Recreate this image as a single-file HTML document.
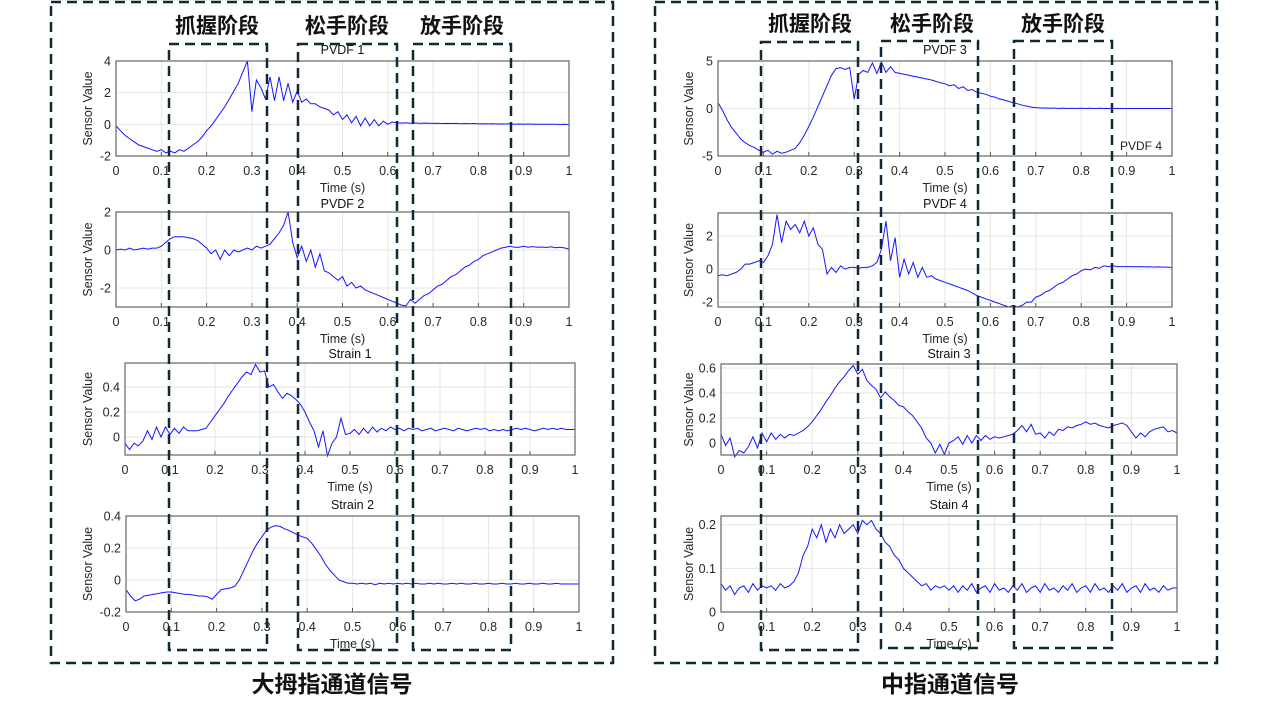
<!DOCTYPE html>
<html><head><meta charset="utf-8">
<style>
html,body{margin:0;padding:0;background:#fff;}
svg{display:block;font-family:"Liberation Sans",Arial,sans-serif;}
.cjk{font-family:"Liberation Sans","Noto Sans CJK SC",sans-serif;font-weight:bold;fill:#111;}
</style></head>
<body>
<svg id="fig" width="1280" height="720" viewBox="0 0 1280 720" xmlns="http://www.w3.org/2000/svg">
<g id="charts"></g>
<g id="overlay" fill="none" stroke="#0f2a36" stroke-width="2.5" stroke-dasharray="10 6">
  <rect x="51" y="2" width="562" height="661"/>
  <rect x="655" y="2" width="562" height="661"/>
  <rect x="169" y="44" width="98" height="606"/>
  <rect x="298" y="44" width="99" height="606"/>
  <rect x="413" y="44" width="98" height="606"/>
  <rect x="761" y="42" width="97" height="608"/>
  <rect x="881" y="41" width="97" height="607"/>
  <rect x="1014" y="41" width="98" height="607"/>
</g>
<text class="cjk" x="217" y="33" font-size="21" text-anchor="middle">抓握阶段</text>
<text class="cjk" x="347" y="33" font-size="21" text-anchor="middle">松手阶段</text>
<text class="cjk" x="462" y="33" font-size="21" text-anchor="middle">放手阶段</text>
<text class="cjk" x="810" y="31" font-size="21" text-anchor="middle">抓握阶段</text>
<text class="cjk" x="932" y="31" font-size="21" text-anchor="middle">松手阶段</text>
<text class="cjk" x="1063" y="31" font-size="21" text-anchor="middle">放手阶段</text>
<text class="cjk" x="332" y="692" font-size="23" text-anchor="middle">大拇指通道信号</text>
<text class="cjk" x="950" y="692" font-size="23" text-anchor="middle">中指通道信号</text>
<text x="1162" y="150" font-size="12" fill="#222" text-anchor="end">PVDF 4</text>
</svg>
<script>
const xTicks=[0,0.1,0.2,0.3,0.4,0.5,0.6,0.7,0.8,0.9,1];
const xTickLabels=["0","0.1","0.2","0.3","0.4","0.5","0.6","0.7","0.8","0.9","1"];
const pvdf1Ticks=[-2,0,2,4];
const pvdf2Ticks=[-2,0,2];
const strain1Ticks=[0,0.2,0.4];
const strain2Ticks=[-0.2,0,0.2,0.4];
const pvdf3Ticks=[-5,0,5];
const pvdf4Ticks=[-2,0,2];
const strain3Ticks=[0,0.2,0.4,0.6];
const stain4Ticks=[0,0.1,0.2];
const pvdf1=[-0.1,-0.4,-0.7,-0.9,-1.1,-1.3,-1.4,-1.5,-1.6,-1.7,-1.6,-1.8,-1.7,-1.8,-1.6,-1.7,-1.5,-1.3,-1.1,-0.8,-0.4,-0.1,0.3,0.7,1.1,1.6,2.1,2.6,3.3,4.0,0.8,2.8,2.3,1.6,3.0,1.5,3.0,1.5,2.6,1.4,2.1,1.4,1.6,1.3,1.3,1.1,1.0,0.9,0.6,0.8,0.3,0.6,0.1,0.5,-0.1,0.4,-0.1,0.3,-0.1,0.2,0.0,0.15,0.1,0.08,0.1,0.07,0.09,0.06,0.08,0.07,0.06,0.07,0.05,0.06,0.05,0.06,0.04,0.05,0.04,0.05,0.03,0.04,0.03,0.04,0.02,0.03,0.02,0.03,0.01,0.02,0.01,0.02,0.0,0.01,0.0,0.01,0.0,0.0,-0.01,0.0,-0.02];
const pvdf2=[0,0.05,0.0,0.1,0.0,0.05,0.1,0.05,0.1,0.1,0.2,0.4,0.6,0.7,0.7,0.7,0.65,0.6,0.5,0.3,0.1,-0.2,0.0,-0.5,0.0,-0.3,0.0,-0.1,0.0,0.1,0.0,0.2,0.1,0.2,0.3,0.6,0.9,1.3,2.0,0.4,-0.4,0.2,-0.6,0.0,-0.9,-0.2,-1.1,-1.2,-1.4,-1.6,-1.4,-1.9,-1.7,-2.0,-1.9,-2.1,-2.2,-2.3,-2.4,-2.5,-2.6,-2.7,-2.8,-2.9,-2.95,-2.6,-2.8,-2.6,-2.4,-2.3,-2.1,-1.9,-1.8,-1.6,-1.4,-1.3,-1.1,-0.9,-0.8,-0.6,-0.5,-0.3,-0.2,-0.1,0.0,0.1,0.15,0.2,0.15,0.15,0.2,0.15,0.18,0.14,0.16,0.13,0.17,0.12,0.15,0.11,0.05];
const strain1=[-0.05,-0.1,-0.05,-0.07,-0.03,0.05,-0.02,0.08,0.0,0.08,0.02,0.07,0.03,0.08,0.05,0.05,0.05,0.06,0.07,0.12,0.17,0.22,0.27,0.33,0.38,0.43,0.48,0.52,0.50,0.58,0.52,0.53,0.40,0.42,0.36,0.31,0.35,0.33,0.30,0.26,0.20,0.12,0.05,-0.08,0.05,-0.15,-0.05,0.0,0.15,0.02,0.03,0.06,0.02,0.07,0.03,0.08,0.04,0.07,0.05,0.08,0.06,0.07,0.05,0.07,0.06,0.07,0.05,0.06,0.07,0.05,0.06,0.07,0.06,0.05,0.07,0.06,0.05,0.06,0.07,0.06,0.07,0.05,0.06,0.05,0.06,0.05,0.06,0.07,0.06,0.07,0.06,0.05,0.06,0.07,0.06,0.07,0.06,0.07,0.06,0.06,0.06];
const strain2=[-0.06,-0.10,-0.13,-0.12,-0.10,-0.095,-0.09,-0.085,-0.08,-0.075,-0.075,-0.08,-0.085,-0.09,-0.09,-0.095,-0.1,-0.1,-0.105,-0.12,-0.09,-0.06,-0.055,-0.05,-0.04,0.0,0.06,0.12,0.18,0.23,0.27,0.31,0.33,0.34,0.335,0.32,0.31,0.295,0.28,0.27,0.26,0.23,0.19,0.15,0.10,0.06,0.03,0.0,-0.01,-0.02,-0.02,-0.025,-0.02,-0.025,-0.02,-0.03,-0.02,-0.025,-0.02,-0.025,-0.02,-0.025,-0.02,-0.025,-0.02,-0.025,-0.025,-0.02,-0.025,-0.02,-0.025,-0.025,-0.02,-0.025,-0.02,-0.025,-0.025,-0.02,-0.025,-0.025,-0.02,-0.025,-0.025,-0.02,-0.025,-0.025,-0.02,-0.025,-0.025,-0.02,-0.025,-0.025,-0.02,-0.025,-0.025,-0.02,-0.025,-0.025,-0.025,-0.025,-0.025];
const pvdf3=[0.6,-0.2,-1.2,-2.0,-2.6,-3.2,-3.6,-3.9,-4.1,-4.4,-4.6,-4.4,-4.8,-4.5,-4.7,-4.6,-4.4,-4.2,-3.6,-2.8,-1.9,-0.9,0.2,1.3,2.4,3.5,4.2,4.3,4.1,4.3,1.0,3.6,4.0,3.8,4.8,3.7,4.9,3.8,4.4,3.8,3.7,3.6,3.5,3.4,3.3,3.2,3.1,3.0,2.85,2.7,2.6,2.4,2.5,2.1,2.3,1.9,2.0,1.7,1.6,1.5,1.3,1.2,1.0,0.9,0.75,0.6,0.5,0.35,0.25,0.15,0.1,0.05,0.05,0.02,0.05,0.0,0.04,0.0,0.03,0.0,0.03,0.0,0.02,0.0,0.02,0.0,0.01,0.0,0.01,0.0,0.0,0.0,0.0,0.0,0.0,0.0,0.0,0.0,0.0,0.0,0.0];
const pvdf4=[-0.4,-0.35,-0.4,-0.3,-0.2,0.0,0.3,0.3,0.4,0.5,0.4,0.8,1.5,3.3,1.6,2.9,2.4,2.7,2.2,2.9,2.0,2.5,1.5,1.2,-0.3,0.1,-0.2,0.2,0.0,0.1,0.1,0.05,0.1,0.1,0.2,0.4,1.2,2.9,0.5,1.9,-0.5,0.6,-0.3,0.4,-0.5,0.1,-0.5,-0.4,-0.6,-0.7,-0.8,-0.9,-1.0,-1.1,-1.2,-1.3,-1.45,-1.6,-1.7,-1.8,-1.9,-2.0,-2.1,-2.2,-2.3,-2.2,-2.3,-2.2,-2.0,-2.0,-1.7,-1.6,-1.4,-1.3,-1.1,-0.9,-0.8,-0.6,-0.4,-0.3,-0.1,0.0,-0.05,0.1,0.05,0.2,0.15,0.2,0.15,0.15,0.15,0.15,0.14,0.15,0.13,0.14,0.12,0.13,0.12,0.12,0.1];
const strain3=[0.07,-0.02,0.04,-0.11,-0.06,-0.08,-0.03,0.05,-0.04,0.08,0.01,0.08,0.03,0.07,0.04,0.07,0.06,0.08,0.1,0.13,0.17,0.22,0.27,0.33,0.38,0.44,0.49,0.53,0.58,0.62,0.55,0.59,0.50,0.46,0.43,0.36,0.41,0.37,0.34,0.30,0.29,0.25,0.22,0.17,0.12,0.04,0.0,-0.08,-0.01,-0.09,0.0,0.02,0.05,-0.01,0.06,0.0,0.06,0.02,0.06,0.03,0.05,0.04,0.05,0.06,0.07,0.1,0.14,0.09,0.15,0.07,0.08,0.04,0.09,0.06,0.11,0.10,0.13,0.12,0.14,0.15,0.17,0.15,0.16,0.14,0.13,0.12,0.14,0.15,0.16,0.14,0.09,0.04,0.08,0.05,0.09,0.11,0.12,0.13,0.09,0.10,0.08];
const stain4=[0.065,0.05,0.06,0.04,0.055,0.06,0.045,0.065,0.05,0.06,0.055,0.06,0.05,0.065,0.055,0.06,0.07,0.09,0.13,0.15,0.19,0.17,0.2,0.16,0.19,0.17,0.2,0.18,0.19,0.2,0.18,0.21,0.2,0.21,0.19,0.18,0.16,0.15,0.13,0.12,0.10,0.09,0.08,0.07,0.06,0.065,0.05,0.06,0.055,0.06,0.05,0.06,0.045,0.06,0.05,0.065,0.045,0.055,0.06,0.045,0.065,0.05,0.055,0.045,0.06,0.05,0.065,0.045,0.055,0.06,0.045,0.065,0.05,0.055,0.045,0.06,0.05,0.065,0.045,0.055,0.06,0.045,0.065,0.05,0.055,0.045,0.06,0.05,0.065,0.045,0.055,0.06,0.045,0.065,0.05,0.055,0.045,0.06,0.05,0.055,0.055];

const panels=[
 {name:"pvdf-1",title:"PVDF 1",data:pvdf1,ticks:pvdf1Ticks,ymin:-2,ymax:4,x0:116,x1:569,y0:61,y1:156,ty:54,lx:92},
 {name:"pvdf-2",title:"PVDF 2",data:pvdf2,ticks:pvdf2Ticks,ymin:-3,ymax:2,x0:116,x1:569,y0:212,y1:307,ty:208,lx:92},
 {name:"strain-1",title:"Strain 1",data:strain1,ticks:strain1Ticks,ymin:-0.144,ymax:0.592,x0:125,x1:575,y0:363,y1:455,ty:358,lx:92},
 {name:"strain-2",title:"Strain 2",data:strain2,ticks:strain2Ticks,ymin:-0.2,ymax:0.4,x0:126,x1:579,y0:516,y1:612,ty:509,lx:92},
 {name:"pvdf-3",title:"PVDF 3",data:pvdf3,ticks:pvdf3Ticks,ymin:-5,ymax:5,x0:718,x1:1172,y0:61,y1:156,ty:54,lx:693},
 {name:"pvdf-4",title:"PVDF 4",data:pvdf4,ticks:pvdf4Ticks,ymin:-2.3,ymax:3.4,x0:718,x1:1172,y0:213,y1:307,ty:208,lx:693},
 {name:"strain-3",title:"Strain 3",data:strain3,ticks:strain3Ticks,ymin:-0.096,ymax:0.632,x0:721,x1:1177,y0:364,y1:455,ty:358,lx:693},
 {name:"stain-4",title:"Stain 4",data:stain4,ticks:stain4Ticks,ymin:0,ymax:0.22,x0:721,x1:1177,y0:516,y1:612,ty:509,lx:693}
];
const NS="http://www.w3.org/2000/svg";
const root=document.getElementById("charts");
function mk(tag,attrs,parent){const e=document.createElementNS(NS,tag);for(const k in attrs)e.setAttribute(k,attrs[k]);parent.appendChild(e);return e;}
panels.forEach(p=>{
 const g=mk("g",{},root);
 
 
 const sx=v=>p.x0+(p.x1-p.x0)*v;
 const sy=v=>p.y1-(p.y1-p.y0)*(v-p.ymin)/(p.ymax-p.ymin);
 xTicks.forEach((t,i)=>{
  const gl=mk("line",{x1:sx(t),x2:sx(t),y1:p.y0,y2:p.y1,stroke:"#e6e6e6","stroke-width":1},g);
  
  
  const tk=mk("line",{x1:sx(t),x2:sx(t),y1:p.y1,y2:p.y1-4,stroke:"#555"},g);
  
  
  const lb=mk("text",{x:sx(t),y:p.y1+19,"font-size":12.5,fill:"#262626","text-anchor":"middle"},g);
  lb.textContent=xTickLabels[i];
  
  
 });
 p.ticks.forEach(t=>{
  const y=sy(t);
  const gl=mk("line",{x1:p.x0,x2:p.x1,y1:y,y2:y,stroke:"#e6e6e6","stroke-width":1},g);
  
  
  const lb=mk("text",{x:p.x0-5,y:y+4.5,"font-size":12.5,fill:"#262626","text-anchor":"end"},g);
  lb.textContent=String(t);
  
  
 });
 const pts=p.data.map((v,i)=>sx(i/(p.data.length-1)).toFixed(1)+","+sy(v).toFixed(1)).join(" ");
 const ln=mk("polyline",{points:pts,fill:"none",stroke:"#1515ff","stroke-width":1},g);
 
 
 const box=mk("rect",{x:p.x0,y:p.y0,width:p.x1-p.x0,height:p.y1-p.y0,fill:"none",stroke:"#666","stroke-width":1.2},g);
 
 
 const tt=mk("text",{x:(p.x0+p.x1)/2,y:p.ty,"font-size":12.5,fill:"#111","text-anchor":"middle"},g);
 tt.textContent=p.title;
 
 
 const xl=mk("text",{x:(p.x0+p.x1)/2,y:p.y1+36,"font-size":12.5,fill:"#262626","text-anchor":"middle"},g);
 xl.textContent="Time (s)";
 
 
 const cy=(p.y0+p.y1)/2;
 const yl=mk("text",{x:p.lx,y:cy,"font-size":12.5,fill:"#262626","text-anchor":"middle",transform:"rotate(-90 "+p.lx+" "+cy+")"},g);
 yl.textContent="Sensor Value";
 
 
});
</script>
</body></html>
